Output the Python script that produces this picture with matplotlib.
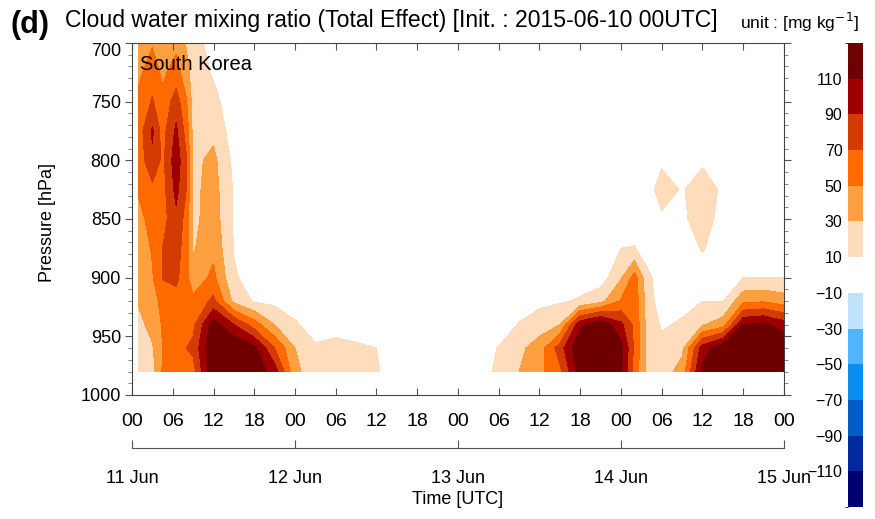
import numpy as np
import matplotlib
matplotlib.use("Agg")
import matplotlib.pyplot as plt
from matplotlib.colors import ListedColormap, BoundaryNorm

plt.rcParams['font.family'] = ['Liberation Sans', 'DejaVu Sans']

# time axis: hours after 11 Jun 00UTC
hours = [1, 3, 4.5, 6.5, 8, 9, 12, 15, 18, 21, 24, 27, 30, 33, 36, 39,
         51, 54, 57, 60, 63, 66, 69, 72, 74, 76, 78, 81, 84, 87, 90, 93, 96]
pressure = [700, 725, 750, 775, 800, 825, 850, 875, 900, 920, 940, 960, 980]

# cloud water mixing ratio [mg/kg], one vertical profile (700 -> 980 hPa) per time
qc_profiles = [
    [35, 46, 55, 60, 58, 52, 45, 38, 36, 32, 25, 18, 14],
    [48, 60, 72, 93, 86, 65, 56, 52, 48, 42, 36, 28, 22],
    [40, 46, 55, 62, 65, 62, 62, 70, 71, 56, 52, 50, 52],
    [45, 58, 80, 94, 102, 96, 85, 80, 75, 62, 58, 56, 55],
    [28, 38, 52, 62, 72, 70, 62, 58, 55, 55, 62, 70, 60],
    [15, 20, 22, 24, 25, 25, 25, 28, 38, 55, 65, 75, 62],
    [5, 8, 15, 25, 35, 38, 40, 45, 55, 75, 120, 140, 135],
    [0, 0, 0, 0, 5, 8, 8, 9, 12, 25, 90, 130, 130],
    [0, 0, 0, 0, 0, 0, 0, 0, 3, 8, 60, 115, 125],
    [0, 0, 0, 0, 0, 0, 0, 0, 0, 5, 30, 70, 100],
    [0, 0, 0, 0, 0, 0, 0, 0, 0, 2, 12, 30, 35],
    [0, 0, 0, 0, 0, 0, 0, 0, 0, 0, 3, 12, 18],
    [0, 0, 0, 0, 0, 0, 0, 0, 0, 0, 5, 14, 20],
    [0, 0, 0, 0, 0, 0, 0, 0, 0, 0, 4, 12, 18],
    [0, 0, 0, 0, 0, 0, 0, 0, 0, 0, 2, 10, 12],
    [0, 0, 0, 0, 0, 0, 0, 0, 0, 0, 0, 0, 0],
    [0, 0, 0, 0, 0, 0, 0, 0, 0, 0, 0, 0, 0],
    [0, 0, 0, 0, 0, 0, 0, 0, 0, 0, 0, 11, 15],
    [0, 0, 0, 0, 0, 0, 0, 0, 0, 3, 11, 25, 30],
    [0, 0, 0, 0, 0, 0, 0, 0, 0, 5, 20, 40, 45],
    [0, 0, 0, 0, 0, 0, 0, 0, 0, 8, 30, 80, 65],
    [0, 0, 0, 0, 0, 0, 0, 0, 3, 12, 105, 130, 120],
    [0, 0, 0, 0, 0, 0, 0, 0, 0, 24, 125, 135, 130],
    [0, 0, 0, 0, 0, 0, 0, 10, 28, 52, 95, 118, 112],
    [0, 0, 0, 0, 0, 0, 0, 11, 58, 62, 65, 65, 62],
    [0, 0, 0, 0, 0, 6, 0, 0, 14, 18, 20, 22, 22],
    [0, 0, 0, 0, 8, 15, 8, 0, 0, 0, 8, 15, 20],
    [0, 0, 0, 0, 3, 9, 8, 4, 0, 5, 12, 25, 38],
    [0, 0, 0, 2, 8, 16, 15, 11, 4, 10, 28, 100, 115],
    [0, 0, 0, 0, 2, 8, 6, 3, 4, 9, 40, 125, 130],
    [0, 0, 0, 0, 0, 0, 0, 0, 10, 45, 110, 135, 135],
    [0, 0, 0, 0, 0, 0, 0, 0, 10, 48, 115, 140, 135],
    [0, 0, 0, 0, 0, 0, 0, 0, 10, 40, 100, 130, 130],
]

hour_ticks = list(range(0, 97, 6))
hour_labels = ['00', '06', '12', '18'] * 4 + ['00']
day_ticks = [0, 24, 48, 72, 96]
day_labels = ['11 Jun', '12 Jun', '13 Jun', '14 Jun', '15 Jun']
bounds = list(range(-130, 131, 20))
cbar_ticks = list(range(-110, 111, 20))
colors = ['#000070', '#0028a0', '#005cc8', '#0a8cf0', '#50b4ff', '#c0e4ff', '#ffffff',
          '#ffdcbc', '#ffa040', '#ff6a00', '#d23c00', '#9e0000', '#6e0000']

W, H = 875, 519
fig = plt.figure(figsize=(W / 100, H / 100), dpi=100)

def box(x0, y0, x1, y1):
    # pixel box (top-left origin) -> figure fraction rect
    return [x0 / W, 1 - y1 / H, (x1 - x0) / W, (y1 - y0) / H]

ax = fig.add_axes(box(132, 43, 784, 395))
cmap = ListedColormap(colors)
norm = BoundaryNorm(bounds, cmap.N)

qc = np.array(qc_profiles, dtype=float).T
# values beyond the outer levels go into the end colours
qc_plot = np.clip(qc, bounds[0] + 0.1, bounds[-1] - 0.1)
cf = ax.contourf(hours, pressure, qc_plot, levels=bounds, cmap=cmap, norm=norm)

ax.set_xlim(0, 96)
ax.set_ylim(1000, 700)

ax.set_xticks(hour_ticks)
ax.set_xticklabels(hour_labels)
ax.set_yticks(range(700, 1001, 50))
ax.set_yticks(range(700, 1001, 10), minor=True)
ax.tick_params(axis='x', which='major', direction='in', top=True, length=5,
               width=0.8, labelsize=14, pad=13, color='#555555')
ax.tick_params(axis='y', which='major', direction='out', right=True, length=5,
               width=0.8, labelsize=13, pad=3, color='#555555')
ax.tick_params(axis='y', which='minor', direction='out', right=True, length=3,
               width=0.6, color='#777777')
for lab in ax.get_yticklabels():
    if lab.get_text() == '700':
        lab.set_verticalalignment('top')
for s in ax.spines.values():
    s.set_linewidth(0.8)
    s.set_color('#444444')

# day axis under the hour labels
sec = ax.secondary_xaxis(-(448 - 395) / 352)
sec.set_xticks(day_ticks)
sec.set_xticklabels(day_labels)
sec.tick_params(direction='in', length=6, width=0.8, labelsize=13, pad=16, color='#555555')
sec.spines['bottom'].set_linewidth(0.8)
sec.spines['bottom'].set_color('#555555')

ax.text(0.012, 0.94, 'South Korea', transform=ax.transAxes, fontsize=14.5, va='center')

fig.text(47 / W, 1 - 222 / H, 'Pressure [hPa]', rotation=90, fontsize=13,
         ha='center', va='center')
fig.text(458 / W, 1 - 500 / H, 'Time [UTC]', fontsize=13, ha='center', va='center')

fig.text(11 / W, 1 - 25 / H, '(d)', fontsize=22, fontweight='bold', va='center')
fig.text(65 / W, 1 - 20 / H, 'Cloud water mixing ratio (Total Effect) [Init. : 2015-06-10 00UTC]',
         fontsize=16.6, va='center')
fig.text(740 / W, 1 - 22 / H, 'unit : [mg kg$^{-1}$]', fontsize=12.5, va='center')

cax = fig.add_axes(box(848, 43, 863, 507))
cb = fig.colorbar(cf, cax=cax, ticks=cbar_ticks)
cb.outline.set_visible(False)
cax.yaxis.set_ticks_position('left')
cax.tick_params(length=0, labelsize=11.5, pad=4)

fig.savefig('out.png', dpi=100)
